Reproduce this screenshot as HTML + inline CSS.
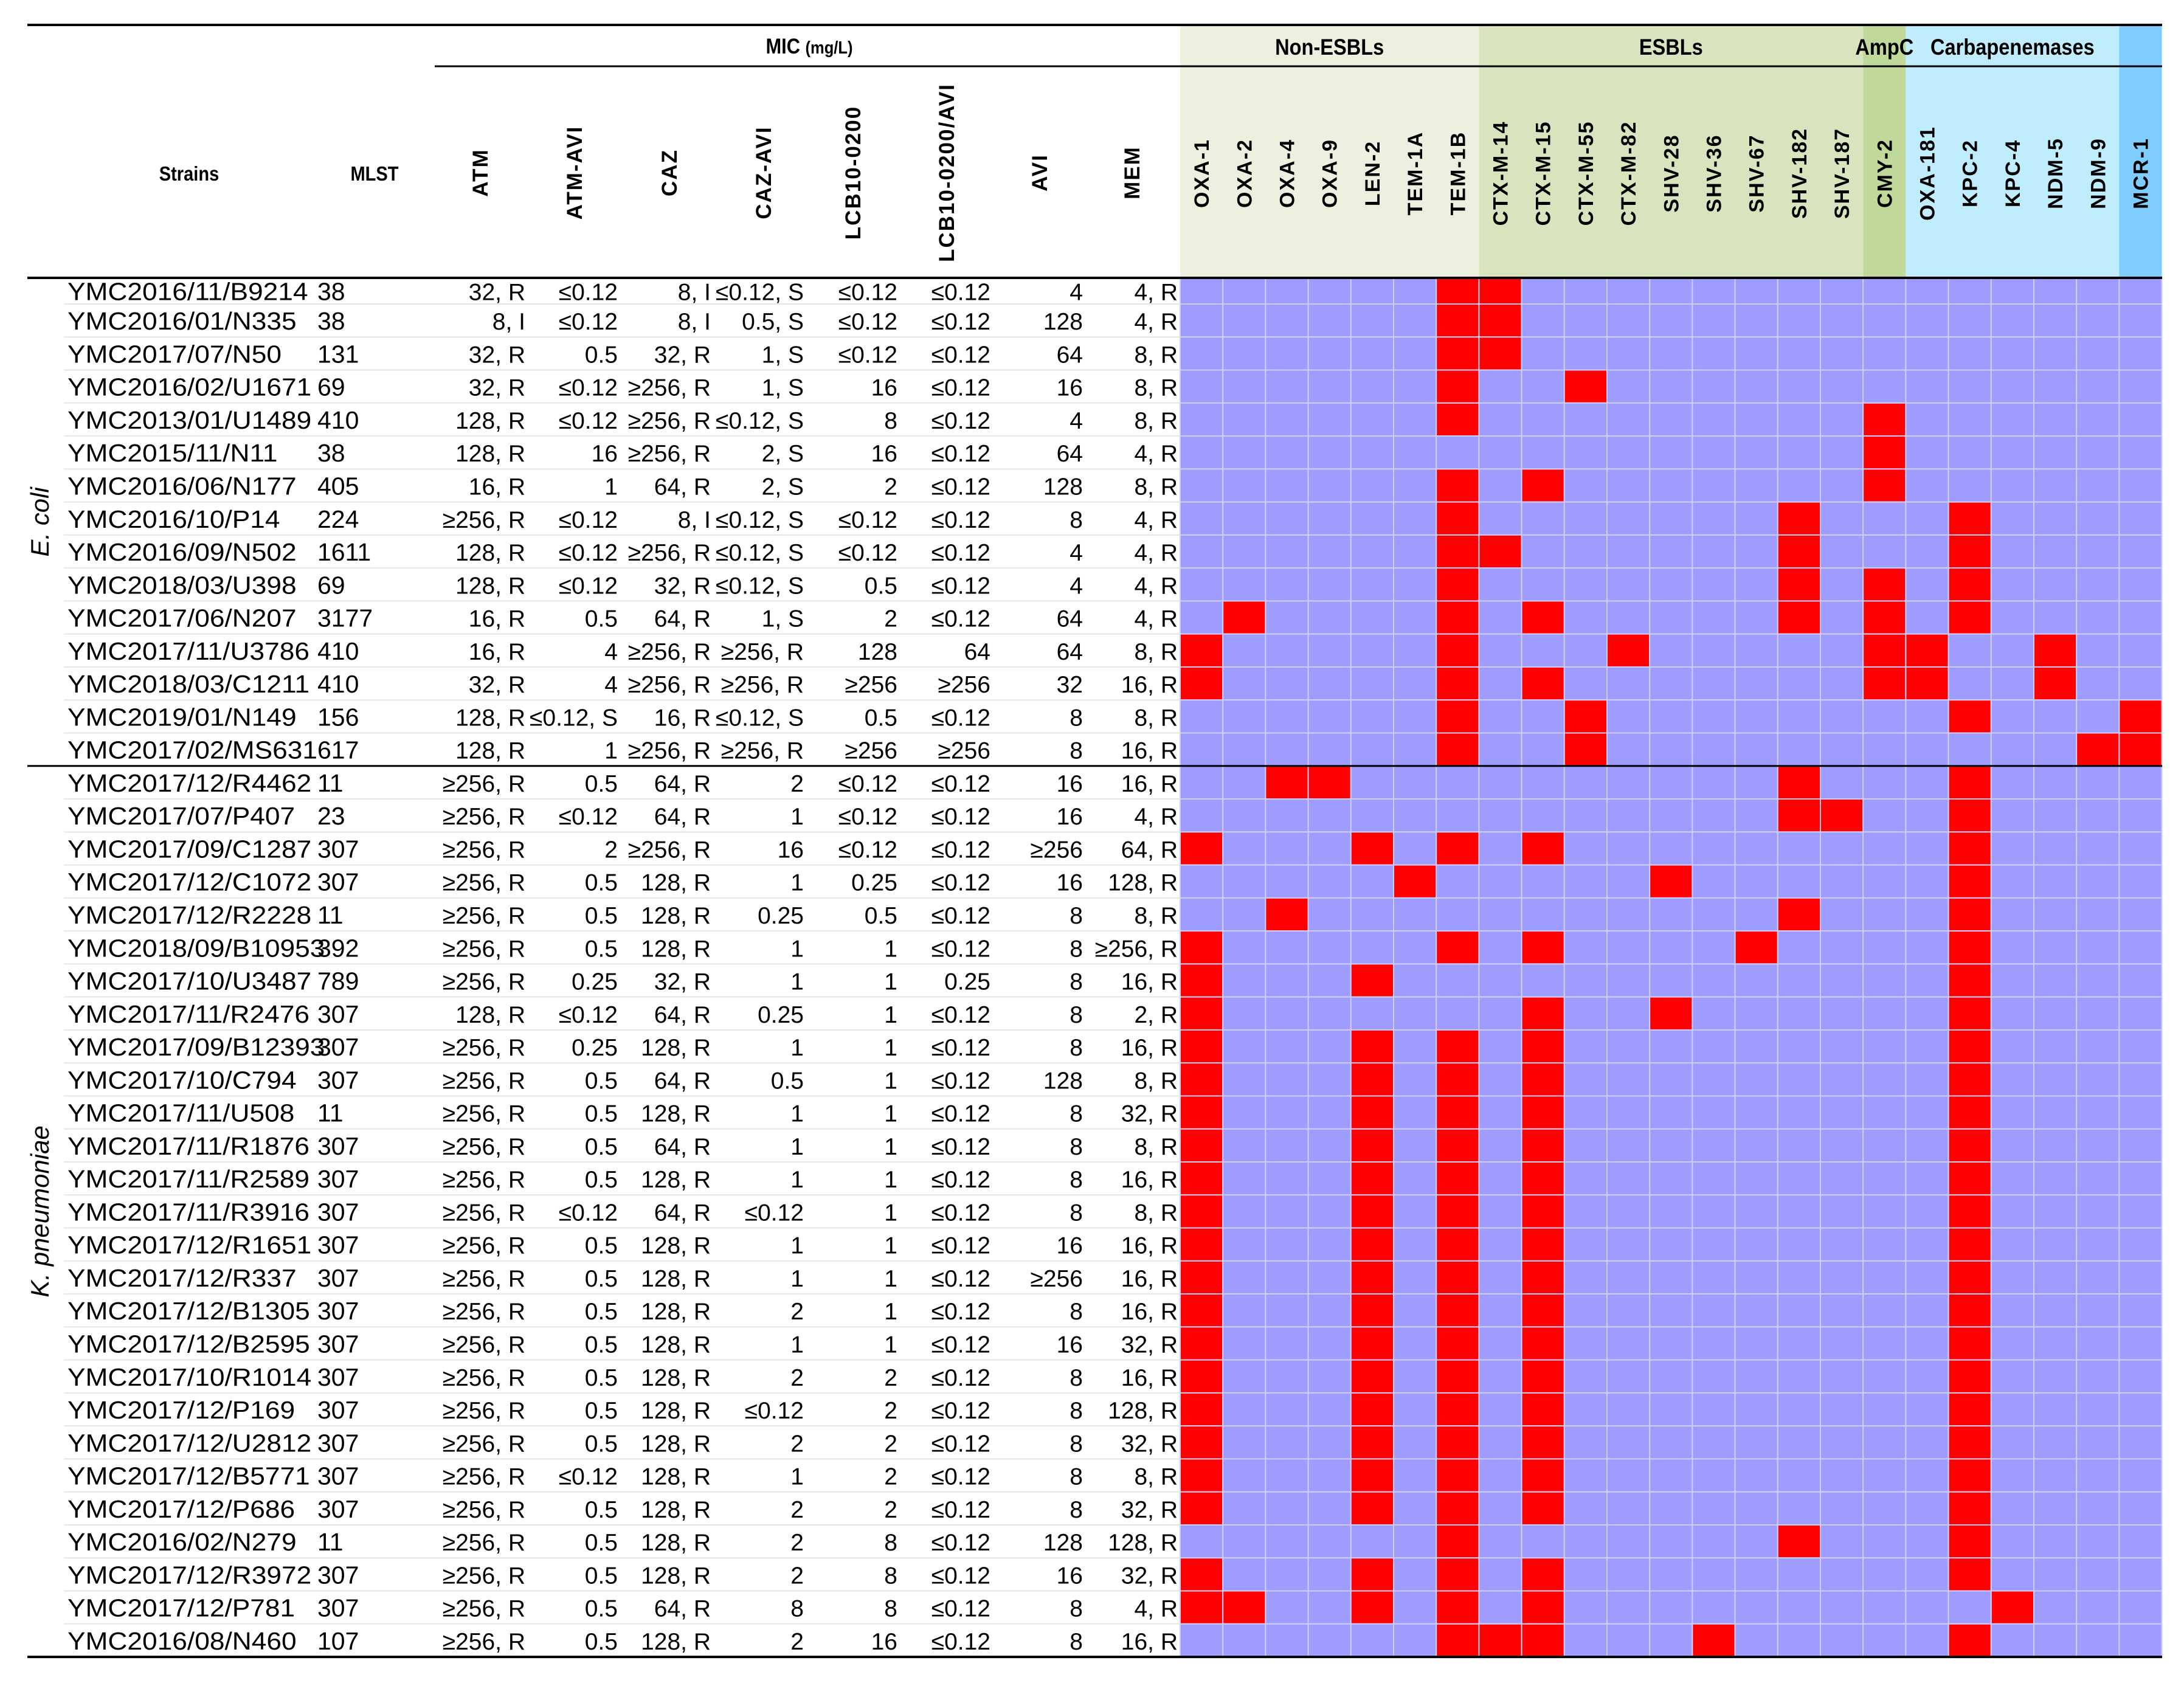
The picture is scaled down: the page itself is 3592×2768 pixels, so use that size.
<!DOCTYPE html>
<html><head><meta charset="utf-8">
<style>
html,body{margin:0;padding:0;background:#fff;}
svg{display:block;font-family:"Liberation Sans",Arial,sans-serif;}
</style></head>
<body>
<svg id="chart" width="3592" height="2768" viewBox="0 0 3592 2768" xmlns="http://www.w3.org/2000/svg"></svg>
<script>
const strains = ["YMC2016/11/B9214","YMC2016/01/N335","YMC2017/07/N50","YMC2016/02/U1671","YMC2013/01/U1489","YMC2015/11/N11","YMC2016/06/N177","YMC2016/10/P14","YMC2016/09/N502","YMC2018/03/U398","YMC2017/06/N207","YMC2017/11/U3786","YMC2018/03/C1211","YMC2019/01/N149","YMC2017/02/MS631",
"YMC2017/12/R4462","YMC2017/07/P407","YMC2017/09/C1287","YMC2017/12/C1072","YMC2017/12/R2228","YMC2018/09/B10953","YMC2017/10/U3487","YMC2017/11/R2476","YMC2017/09/B12393","YMC2017/10/C794","YMC2017/11/U508","YMC2017/11/R1876","YMC2017/11/R2589","YMC2017/11/R3916","YMC2017/12/R1651","YMC2017/12/R337","YMC2017/12/B1305","YMC2017/12/B2595","YMC2017/10/R1014","YMC2017/12/P169","YMC2017/12/U2812","YMC2017/12/B5771","YMC2017/12/P686","YMC2016/02/N279","YMC2017/12/R3972","YMC2017/12/P781","YMC2016/08/N460"];
const mlst = ["38","38","131","69","410","38","405","224","1611","69","3177","410","410","156","617",
"11","23","307","307","11","392","789","307","307","307","11","307","307","307","307","307","307","307","307","307","307","307","307","11","307","307","107"];
const atm = ["32, R","8,  I","32, R","32, R","128, R","128, R","16, R","≥256, R","128, R","128, R","16, R","16, R","32, R","128, R","128, R",
"≥256, R","≥256, R","≥256, R","≥256, R","≥256, R","≥256, R","≥256, R","128, R","≥256, R","≥256, R","≥256, R","≥256, R","≥256, R","≥256, R","≥256, R","≥256, R","≥256, R","≥256, R","≥256, R","≥256, R","≥256, R","≥256, R","≥256, R","≥256, R","≥256, R","≥256, R","≥256, R"];
const atmAvi = ["≤0.12","≤0.12","0.5","≤0.12","≤0.12","16","1","≤0.12","≤0.12","≤0.12","0.5","4","4","≤0.12, S","1",
"0.5","≤0.12","2","0.5","0.5","0.5","0.25","≤0.12","0.25","0.5","0.5","0.5","0.5","≤0.12","0.5","0.5","0.5","0.5","0.5","0.5","0.5","≤0.12","0.5","0.5","0.5","0.5","0.5"];
const caz = ["8, I","8, I","32, R","≥256, R","≥256, R","≥256, R","64, R","8, I","≥256, R","32, R","64, R","≥256, R","≥256, R","16, R","≥256, R",
"64, R","64, R","≥256, R","128, R","128, R","128, R","32, R","64, R","128, R","64, R","128, R","64, R","128, R","64, R","128, R","128, R","128, R","128, R","128, R","128, R","128, R","128, R","128, R","128, R","128, R","64, R","128, R"];
const cazAvi = ["≤0.12, S","0.5, S","1, S","1, S","≤0.12, S","2, S","2, S","≤0.12, S","≤0.12, S","≤0.12, S","1, S","≥256, R","≥256, R","≤0.12, S","≥256, R",
"2","1","16","1","0.25","1","1","0.25","1","0.5","1","1","1","≤0.12","1","1","2","1","2","≤0.12","2","1","2","2","2","8","2"];
const lcb = ["≤0.12","≤0.12","≤0.12","16","8","16","2","≤0.12","≤0.12","0.5","2","128","≥256","0.5","≥256",
"≤0.12","≤0.12","≤0.12","0.25","0.5","1","1","1","1","1","1","1","1","1","1","1","1","1","2","2","2","2","2","8","8","8","16"];
const lcbAvi = ["≤0.12","≤0.12","≤0.12","≤0.12","≤0.12","≤0.12","≤0.12","≤0.12","≤0.12","≤0.12","≤0.12","64","≥256","≤0.12","≥256",
"≤0.12","≤0.12","≤0.12","≤0.12","≤0.12","≤0.12","0.25","≤0.12","≤0.12","≤0.12","≤0.12","≤0.12","≤0.12","≤0.12","≤0.12","≤0.12","≤0.12","≤0.12","≤0.12","≤0.12","≤0.12","≤0.12","≤0.12","≤0.12","≤0.12","≤0.12","≤0.12"];
const avi = ["4","128","64","16","4","64","128","8","4","4","64","64","32","8","8",
"16","16","≥256","16","8","8","8","8","8","128","8","8","8","8","16","≥256","8","16","8","8","8","8","8","128","16","8","8"];
const mem = ["4, R","4, R","8, R","8, R","8, R","4, R","8, R","4, R","4, R","4, R","4, R","8, R","16, R","8, R","16, R",
"16, R","4, R","64, R","128, R","8, R","≥256, R","16, R","2, R","16, R","8, R","32, R","8, R","16, R","8, R","16, R","16, R","16, R","32, R","16, R","128, R","32, R","8, R","32, R","128, R","32, R","4, R","16, R"];
const genes = ["OXA-1","OXA-2","OXA-4","OXA-9","LEN-2","TEM-1A","TEM-1B","CTX-M-14","CTX-M-15","CTX-M-55","CTX-M-82","SHV-28","SHV-36","SHV-67","SHV-182","SHV-187","CMY-2","OXA-181","KPC-2","KPC-4","NDM-5","NDM-9","MCR-1"];
// indices of genes present per strain
const present = [[6,7],[6,7],[6,7],[6,9],[6,16],[16],[6,8,16],[6,14,18],[6,7,14,18],[6,14,16,18],[1,6,8,14,16,18],[0,6,10,16,17,20],[0,6,8,16,17,20],[6,9,18,22],[6,9,21,22],
[2,3,14,18],[14,15,18],[0,4,6,8,18],[5,11,18],[2,14,18],[0,6,8,13,18],[0,4,18],[0,8,11,18],[0,4,6,8,18],[0,4,6,8,18],[0,4,6,8,18],[0,4,6,8,18],[0,4,6,8,18],[0,4,6,8,18],[0,4,6,8,18],[0,4,6,8,18],[0,4,6,8,18],[0,4,6,8,18],[0,4,6,8,18],[0,4,6,8,18],[0,4,6,8,18],[0,4,6,8,18],[0,4,6,8,18],[6,14,18],[0,4,6,8,18],[0,1,4,6,8,19],[6,7,8,12,18]];
const groupNames = ["Non-ESBLs","ESBLs","AmpC","Carbapenemases",""];
const groupSizes = [7,9,1,5,1];
const micHeaders = ["ATM","ATM-AVI","CAZ","CAZ-AVI","LCB10-0200","LCB10-0200/AVI","AVI","MEM"];

const NS="http://www.w3.org/2000/svg";
const svg=document.getElementById('chart');
function mk(tag,attrs,parent){const e=document.createElementNS(NS,tag);for(const k in attrs)e.setAttribute(k,attrs[k]);(parent||svg).appendChild(e);return e;}
function squeeze(el,f){const w=el.getComputedTextLength();el.setAttribute('textLength',w*f);el.setAttribute('lengthAdjust','spacingAndGlyphs');}
const HX0=1941, CW=70.2, Y0=457, R1=500, RH=54.27;
const colX=i=>HX0+i*CW;
const rowTop=r=>r===0?Y0:R1+(r-1)*RH;
const rowBot=r=>R1+r*RH;
const groupColors=["#EBF1DE","#D7E4BD","#C0D89A","#C0EDFD","#7FCCFE"];

// header backgrounds
let gi=0;
const groupStarts=[];
groupSizes.forEach((n,g)=>{
  groupStarts.push(gi);
  const r=mk('rect',{x:colX(gi),y:43,width:n*CW,height:Y0-43,fill:groupColors[g]});
  
  
  gi+=n;
});
groupSizes.forEach((n,g)=>{
  if(groupNames[g]){
    const t=mk('text',{x:colX(groupStarts[g])+n*CW/2,y:90,'text-anchor':'middle','font-size':37,'font-weight':'bold'});
    t.textContent=groupNames[g];
    
    
    squeeze(t,0.88);
  }
});

// heatmap cells
const cellG=mk('g',{});
strains.forEach((s,r)=>{
  const y0=rowTop(r), y1=rowBot(r);
  genes.forEach((g,c)=>{
    const on=present[r].includes(c);
    const rc=mk('rect',{x:colX(c),y:y0,width:CW,height:y1-y0,fill:on?'#FF0000':'#9E9CFF',stroke:'#D0CEF4','stroke-width':2},cellG);
    
    
  });
});

// gene labels
genes.forEach((g,c)=>{
  const cx=colX(c)+CW/2+12;
  const t=mk('text',{x:cx,y:285,transform:`rotate(-90 ${cx} 285)`,'text-anchor':'middle','font-size':34,'font-weight':'bold','letter-spacing':2});
  t.textContent=g;
  
  
});

// MIC headers
const micCx=[790,945,1101,1256,1403,1557,1710,1862];
micHeaders.forEach((h,i)=>{
  const cx=micCx[i]+12;
  const t=mk('text',{x:cx,y:284,transform:`rotate(-90 ${cx} 284)`,'text-anchor':'middle','font-size':35,'font-weight':'bold','letter-spacing':2});
  t.textContent=h;
  
  
});
let t=mk('text',{x:311,y:297,'text-anchor':'middle','font-size':33,'font-weight':'bold'});t.textContent='Strains';


squeeze(t,0.88);
t=mk('text',{x:616,y:297,'text-anchor':'middle','font-size':33,'font-weight':'bold'});t.textContent='MLST';


squeeze(t,0.88);
t=mk('text',{x:1331,y:88,'text-anchor':'middle','font-size':35,'font-weight':'bold'});


const ts1=mk('tspan',{},t);ts1.textContent='MIC ';
const ts2=mk('tspan',{'font-size':29},t);ts2.textContent='(mg/L)';
squeeze(t,0.88);

// row separators in text area + body text
const rightCols=[[atm,864],[atmAvi,1016],[caz,1169],[cazAvi,1322],[lcb,1476],[lcbAvi,1629],[avi,1781],[mem,1937]];
strains.forEach((s,r)=>{
  const y0=rowTop(r), y1=rowBot(r), cy=(y0+y1)/2+15;
  if(r<strains.length-1 && r!==14){
    const l=mk('line',{x1:105,x2:HX0,y1:y1,y2:y1,stroke:'#E6E6E6','stroke-width':2});
    
    
  }
  let tx=mk('text',{x:111,y:cy,'font-size':41});tx.textContent=s;
  
  
  squeeze(tx,1.08);
  tx=mk('text',{x:522,y:cy,'font-size':41});tx.textContent=mlst[r];
  
  
  rightCols.forEach(([arr,xr])=>{
    const v=mk('text',{x:xr,y:cy,'font-size':39,'text-anchor':'end'});v.textContent=arr[r];
    
    
  });
});

// species labels
const ecY=(Y0+rowBot(14))/2, kpY=(rowBot(14)+rowBot(41))/2;
t=mk('text',{x:80,y:ecY,transform:`rotate(-90 80 ${ecY})`,'text-anchor':'middle','font-size':42,'font-style':'italic'});t.textContent='E. coli';


t=mk('text',{x:80,y:kpY,transform:`rotate(-90 80 ${kpY})`,'text-anchor':'middle','font-size':42,'font-style':'italic'});t.textContent='K. pneumoniae';



// rules
const rules=[[45,3556,41,4],[715,3556,109,3],[45,3556,Y0,4],[45,3556,rowBot(14),3],[45,3556,rowBot(41),4]];
rules.forEach(([x1,x2,y,w])=>{
  const l=mk('line',{x1:x1,x2:x2,y1:y,y2:y,stroke:'#000','stroke-width':w});
  
  
});
</script>
</body></html>
